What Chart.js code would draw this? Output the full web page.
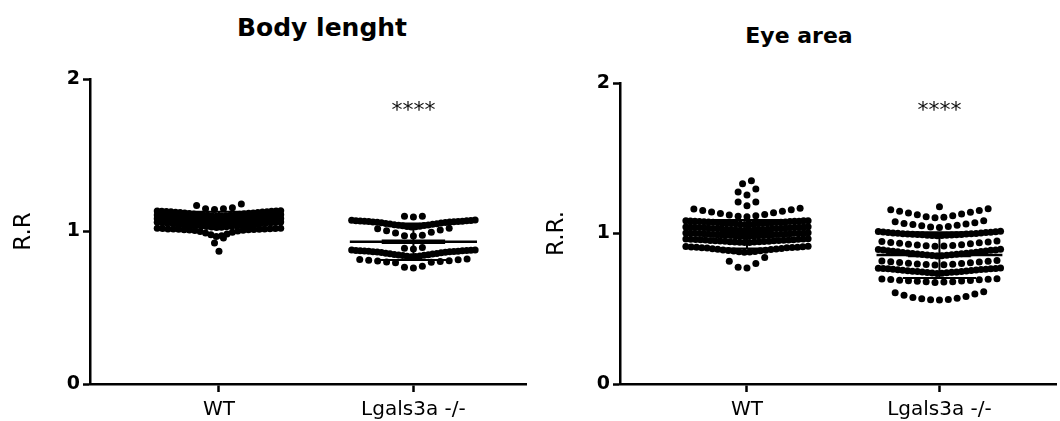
<!DOCTYPE html>
<html>
<head>
<meta charset="utf-8">
<script src="https://cdn.jsdelivr.net/npm/chart.js@4.4.1/dist/chart.umd.min.js"></script>
<style>
  body { margin: 0; background: #fff; }
  #wrap { position: relative; width: 1060px; height: 421px; overflow: hidden; }
  canvas { position: absolute; top: 0; }
  .title { position: absolute; font: bold 25px 'DejaVu Sans', sans-serif; line-height: 25px; white-space: nowrap; transform: translateX(-50%); color: #000; }
</style>
</head>
<body>
<div id="wrap">
  <div class="title" style="left:322px;top:15px">Body lenght</div>
  <div class="title" style="left:799px;top:23px;font-size:22px">Eye area</div>
  <canvas id="bodyChart" width="530" height="421" style="left:0"></canvas>
  <canvas id="eyeChart" width="530" height="421" style="left:530px"></canvas>
</div>
<script>
const categories = ['WT', 'Lgals3a -/-'];

// each inner array is one row of dots
const bodyWT = [
	[1.145, 1.15, 1.15, 1.155, 1.17, 1.18],
	[1.100, 1.101, 1.103, 1.104, 1.106, 1.107, 1.109, 1.110, 1.112, 1.113, 1.115, 1.116, 1.118, 1.119, 1.121, 1.122, 1.124, 1.125, 1.127, 1.128, 1.129, 1.130, 1.131, 1.132, 1.133, 1.134, 1.135, 1.136],
	[1.075, 1.076, 1.078, 1.079, 1.081, 1.082, 1.084, 1.085, 1.087, 1.088, 1.090, 1.091, 1.093, 1.094, 1.096, 1.097, 1.099, 1.100, 1.101, 1.102, 1.103, 1.104, 1.105, 1.106, 1.107, 1.108, 1.109, 1.110],
	[1.050, 1.051, 1.053, 1.054, 1.056, 1.057, 1.059, 1.060, 1.062, 1.063, 1.065, 1.066, 1.068, 1.069, 1.071, 1.072, 1.074, 1.075, 1.076, 1.077, 1.078, 1.079, 1.080, 1.081, 1.082, 1.083, 1.084, 1.086],
	[1.027, 1.028, 1.030, 1.031, 1.033, 1.034, 1.036, 1.037, 1.039, 1.040, 1.042, 1.043, 1.045, 1.046, 1.048, 1.049, 1.051, 1.052, 1.054, 1.055, 1.056, 1.057, 1.058, 1.059, 1.061, 1.062],
	[0.968, 0.972, 0.978, 0.984, 0.990, 0.995, 1.000, 1.003, 1.006, 1.008, 1.010, 1.011, 1.012, 1.013, 1.014, 1.015, 1.016, 1.017, 1.017, 1.018, 1.019, 1.020, 1.021, 1.022],
	[0.925, 0.957],
	[0.870],
];

const bodyKO = [
	[1.095, 1.10, 1.10],
	[1.030, 1.031, 1.033, 1.035, 1.037, 1.039, 1.041, 1.043, 1.045, 1.047, 1.049, 1.051, 1.053, 1.055, 1.057, 1.059, 1.061, 1.062, 1.063, 1.064, 1.065, 1.066, 1.067, 1.068, 1.069, 1.070, 1.071, 1.072, 1.074, 1.075],
	[0.970, 0.972, 0.975, 0.990, 0.995, 1.005, 1.010, 1.018, 1.022],
	[0.885, 0.890, 0.895],
	[0.835, 0.836, 0.838, 0.840, 0.842, 0.844, 0.846, 0.848, 0.850, 0.852, 0.854, 0.856, 0.858, 0.860, 0.862, 0.864, 0.866, 0.867, 0.868, 0.869, 0.870, 0.871, 0.872, 0.873, 0.874, 0.875, 0.876, 0.877, 0.878, 0.879],
	[0.760, 0.765, 0.772, 0.795, 0.798, 0.800, 0.803, 0.806, 0.808, 0.811, 0.814, 0.817, 0.820],
];

const eyeWT = [
	[1.33, 1.35],
	[1.255, 1.275, 1.295],
	[1.185, 1.21, 1.21],
	[1.112, 1.115, 1.118, 1.123, 1.127, 1.133, 1.138, 1.143, 1.148, 1.153, 1.158, 1.163, 1.168],
	[1.060, 1.061, 1.062, 1.063, 1.064, 1.065, 1.066, 1.067, 1.068, 1.069, 1.070, 1.071, 1.072, 1.073, 1.074, 1.075, 1.076, 1.077, 1.078, 1.079, 1.080, 1.081, 1.082, 1.082, 1.083, 1.084, 1.084, 1.085],
	[1.020, 1.021, 1.022, 1.023, 1.024, 1.025, 1.026, 1.027, 1.028, 1.029, 1.030, 1.031, 1.032, 1.033, 1.034, 1.035, 1.036, 1.037, 1.038, 1.039, 1.040, 1.041, 1.042, 1.042, 1.043, 1.044, 1.044, 1.045],
	[0.980, 0.981, 0.982, 0.983, 0.984, 0.985, 0.986, 0.987, 0.988, 0.989, 0.990, 0.991, 0.992, 0.993, 0.994, 0.995, 0.996, 0.997, 0.998, 0.999, 1.000, 1.001, 1.002, 1.002, 1.003, 1.004, 1.004, 1.005],
	[0.940, 0.941, 0.942, 0.943, 0.944, 0.945, 0.946, 0.947, 0.948, 0.949, 0.950, 0.951, 0.952, 0.953, 0.954, 0.955, 0.956, 0.957, 0.958, 0.959, 0.960, 0.961, 0.962, 0.963, 0.964, 0.965],
	[0.875, 0.877, 0.879, 0.881, 0.883, 0.885, 0.887, 0.889, 0.891, 0.893, 0.895, 0.897, 0.899, 0.901, 0.903, 0.905, 0.906, 0.907, 0.908, 0.909, 0.910, 0.912, 0.913, 0.915],
	[0.770, 0.775, 0.800, 0.815, 0.840],
];

const eyeKO = [
	[1.178],
	[1.105, 1.108, 1.112, 1.118, 1.124, 1.130, 1.136, 1.142, 1.148, 1.153, 1.158, 1.165],
	[1.040, 1.043, 1.047, 1.051, 1.055, 1.059, 1.063, 1.067, 1.071, 1.078, 1.085],
	[0.985, 0.986, 0.987, 0.988, 0.989, 0.990, 0.991, 0.992, 0.993, 0.994, 0.995, 0.996, 0.997, 0.998, 0.999, 1.000, 1.002, 1.003, 1.004, 1.006, 1.007, 1.009, 1.010, 1.012, 1.013, 1.015],
	[0.915, 0.917, 0.919, 0.921, 0.924, 0.926, 0.929, 0.932, 0.935, 0.938, 0.941, 0.944, 0.947, 0.950],
	[0.850, 0.852, 0.853, 0.855, 0.857, 0.858, 0.860, 0.862, 0.863, 0.865, 0.867, 0.868, 0.870, 0.872, 0.874, 0.876, 0.878, 0.880, 0.882, 0.884, 0.886, 0.888, 0.890, 0.891, 0.893, 0.895],
	[0.790, 0.792, 0.794, 0.796, 0.798, 0.800, 0.802, 0.805, 0.807, 0.810, 0.812, 0.815, 0.817, 0.820],
	[0.735, 0.736, 0.738, 0.739, 0.741, 0.742, 0.744, 0.745, 0.747, 0.748, 0.750, 0.751, 0.753, 0.754, 0.756, 0.757, 0.759, 0.760, 0.762, 0.763, 0.765, 0.766, 0.767, 0.768, 0.769, 0.770],
	[0.675, 0.677, 0.679, 0.680, 0.682, 0.684, 0.686, 0.688, 0.690, 0.692, 0.694, 0.696, 0.698, 0.700],
	[0.558, 0.560, 0.562, 0.566, 0.570, 0.575, 0.582, 0.590, 0.598, 0.606, 0.613],
];

const bodyMean = [1.08, 0.933];
const bodySD = [0.05, 0.12];
const eyeMean = [0.995, 0.857];
const eyeSD = [0.095, 0.152];
const bodyStarY = 1.818;
const eyeStarY = 1.842;
const starText = '****';

const FONT = "'DejaVu Sans', sans-serif";
const rowStep = 0.046; // widest gap between two dots of a row (x units)
const rowWidth = 0.635; // widest a row may spread (x units)

// dots of a row go out from the centre, lowest value in the middle
function swarm(rows, center) {
	const pts = [];
	rows.forEach((row) => {
		const vals = row.slice().sort((a, b) => a - b);
		const n = vals.length;
		const step = n > 1 ? Math.min(rowStep, rowWidth / (n - 1)) : 0;
		const slots = [];
		for (let i = 0; i < n; i++) slots.push((i - (n - 1) / 2) * step);
		slots.sort((a, b) => Math.abs(a) - Math.abs(b) || a - b);
		vals.forEach((v, i) => pts.push({ x: center + slots[i], y: v }));
	});
	return pts;
}

const errorBars = {
	id: 'errorBars',
	afterDatasetsDraw(chart, args, opts) {
		const { ctx, scales: { x, y } } = chart;
		const line = (x0, x1, y0, y1, w) => {
			ctx.lineWidth = w;
			ctx.beginPath();
			ctx.moveTo(x.getPixelForValue(x0), y.getPixelForValue(y0));
			ctx.lineTo(x.getPixelForValue(x1), y.getPixelForValue(y1));
			ctx.stroke();
		};
		ctx.save();
		ctx.strokeStyle = '#000';
		opts.means.forEach((m, i) => {
			const c = i + 1;
			const sd = opts.sds[i];
			line(c - 0.327, c + 0.327, m, m, 2.5);
			line(c - 0.163, c + 0.163, m, m, 4.5);
			line(c, c, m - sd, m + sd, 2);
			line(c - 0.19, c + 0.19, m + sd, m + sd, 2);
			line(c - 0.19, c + 0.19, m - sd, m - sd, 2);
		});
		ctx.fillStyle = '#111';
		ctx.font = `22px ${FONT}`;
		ctx.textAlign = 'center';
		ctx.textBaseline = 'alphabetic';
		ctx.fillText(opts.mark, x.getPixelForValue(2), y.getPixelForValue(opts.markY) + 10);
		ctx.restore();
	},
};

const chartOptions = (groups, means, sds, markY, yTitle, top, xMin, xMax, titlePad) => ({
	type: 'scatter',
	data: {
		datasets: groups.map((rows, i) => ({
			data: swarm(rows, i + 1),
			backgroundColor: '#000',
			borderWidth: 0,
			pointRadius: 3.5,
			pointHoverRadius: 3.5,
		})),
	},
	options: {
		responsive: false,
		animation: false,
		devicePixelRatio: 1,
		layout: { padding: { top, left: 0, right: 0, bottom: 0 } },
		plugins: {
			legend: { display: false },
			tooltip: { enabled: false },
			errorBars: { means, sds, markY, mark: starText },
		},
		scales: {
			x: {
				type: 'linear',
				min: xMin,
				max: xMax,
				afterBuildTicks: (s) => {
					s.ticks = categories.map((c, i) => ({ value: i + 1 }));
				},
				afterFit: (s) => {
					s.height = 37;
				},
				ticks: {
					callback: (v) => categories[v - 1],
					font: { family: FONT, size: 20 },
					color: '#000',
					padding: 6,
					maxRotation: 0,
					autoSkip: false,
				},
				grid: { drawOnChartArea: false, tickLength: 8, tickWidth: 2.5, tickColor: '#000' },
				border: { color: '#000', width: 2.5 },
			},
			y: {
				min: 0,
				max: 2,
				afterFit: (s) => {
					s.width = 90;
				},
				ticks: {
					stepSize: 1,
					font: { family: FONT, size: 19, weight: 'bold' },
					color: '#000',
					padding: 3,
				},
				grid: { drawOnChartArea: false, tickLength: 7, tickWidth: 2.5, tickColor: '#000' },
				border: { color: '#000', width: 2.5 },
				title: {
					display: true,
					text: yTitle,
					font: { family: FONT, size: 23 },
					color: '#000',
					padding: { top: titlePad, bottom: 0 },
				},
			},
		},
	},
	plugins: [errorBars],
});

new Chart(
	document.getElementById('bodyChart'),
	chartOptions([bodyWT, bodyKO], bodyMean, bodySD, bodyStarY, 'R.R', 79, 0.3367, 2.5816, 10),
);
new Chart(
	document.getElementById('eyeChart'),
	chartOptions([eyeWT, eyeKO], eyeMean, eyeSD, eyeStarY, 'R.R.', 83, 0.3402, 2.6082, 13),
);
</script>
</body>
</html>
